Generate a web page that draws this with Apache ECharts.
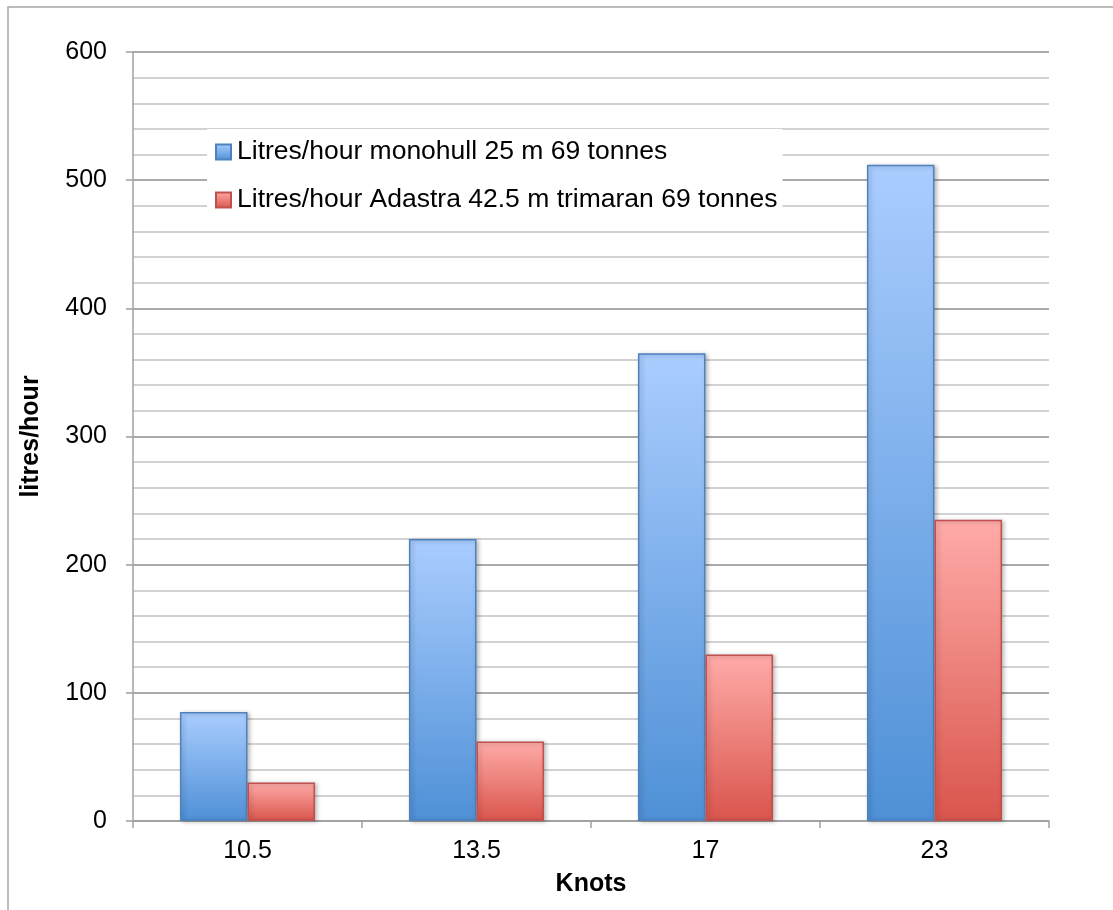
<!DOCTYPE html>
<html>
<head>
<meta charset="utf-8">
<script src="https://cdn.jsdelivr.net/npm/echarts@6/dist/echarts.min.js"></script>
<style>
  html, body { margin: 0; padding: 0; background: #fff; }
  #chart { width: 1113px; height: 910px; }
</style>
</head>
<body>
<div id="chart"></div>
<script>
// Fuel consumption by speed
const knots = ['10.5', '13.5', '17', '23'];
const monohull = [85, 220, 365, 512];
const trimaran = [30, 62, 130, 235];
const seriesNames = [
  'Litres/hour monohull 25 m 69 tonnes',
  'Litres/hour Adastra 42.5 m trimaran 69 tonnes'
];

const FONT = '"Liberation Sans", Arial, sans-serif';

function vGrad(top, bottom) {
  return new echarts.graphic.LinearGradient(0, 0, 0, 1, [
    { offset: 0, color: top },
    { offset: 1, color: bottom }
  ]);
}

const chart = echarts.init(document.getElementById('chart'), null, { renderer: 'canvas' });

chart.setOption({
  animation: false,
  backgroundColor: '#ffffff',
  textStyle: { fontFamily: FONT },
  graphic: [{
    type: 'rect',
    shape: { x: 8, y: 7, width: 1200, height: 1000 },
    style: { fill: 'none', stroke: '#a6a6a6', lineWidth: 1.5 },
    z: -10,
    silent: true
  }],
  grid: { left: 133, right: 64, top: 52, bottom: 89 },
  legend: {
    orient: 'vertical',
    left: 207,
    top: 129,
    backgroundColor: '#ffffff',
    padding: [8, 5, 8, 8],
    itemGap: 18,
    itemWidth: 15,
    itemHeight: 15,
    icon: 'rect',
    z: 10,
    textStyle: { fontFamily: FONT, fontSize: 26.5, color: '#000', lineHeight: 30, padding: [0, 0, 0, 1] },
    data: seriesNames
  },
  xAxis: {
    type: 'category',
    data: knots,
    name: 'Knots',
    nameLocation: 'middle',
    nameGap: 51,
    nameTextStyle: { fontFamily: FONT, fontSize: 25, fontWeight: 'bold', color: '#000' },
    axisLine: { lineStyle: { color: '#a0a0a0', width: 1.5 } },
    axisTick: { show: true, length: 7, alignWithLabel: false, lineStyle: { color: '#a0a0a0', width: 1.5 } },
    axisLabel: { fontFamily: FONT, fontSize: 25, color: '#000', margin: 18 },
    splitLine: { show: false }
  },
  yAxis: {
    type: 'value',
    min: 0,
    max: 600,
    interval: 100,
    name: 'litres/hour',
    nameLocation: 'middle',
    nameGap: 89,
    nameRotate: 90,
    nameTextStyle: { fontFamily: FONT, fontSize: 25, fontWeight: 'bold', color: '#000' },
    axisLine: { show: true, lineStyle: { color: '#a0a0a0', width: 1.5 } },
    axisTick: { show: true, length: 7, lineStyle: { color: '#a0a0a0', width: 1.5 } },
    axisLabel: { fontFamily: FONT, fontSize: 25, color: '#000', margin: 26 },
    splitLine: { show: true, lineStyle: { color: '#8e8e8e', width: 1.5 } },
    minorTick: { show: false, splitNumber: 5 },
    minorSplitLine: { show: true, lineStyle: { color: '#c4c4c4', width: 1.5 } }
  },
  series: [
    {
      name: seriesNames[0],
      type: 'bar',
      data: monohull,
      barGap: '0%',
      barCategoryGap: '41%',
      itemStyle: {
        color: vGrad('#aacdff', '#4e90d6'),
        borderColor: '#4f81bd',
        borderWidth: 1.5,
        shadowBlur: 4,
        shadowColor: 'rgba(0,0,0,0.25)',
        shadowOffsetX: 2,
        shadowOffsetY: 1
      }
    },
    {
      name: seriesNames[1],
      type: 'bar',
      data: trimaran,
      itemStyle: {
        color: vGrad('#ffaba8', '#d9554c'),
        borderColor: '#c0504d',
        borderWidth: 1.5,
        shadowBlur: 4,
        shadowColor: 'rgba(0,0,0,0.25)',
        shadowOffsetX: 2,
        shadowOffsetY: 1
      }
    }
  ]
});
</script>
</body>
</html>
